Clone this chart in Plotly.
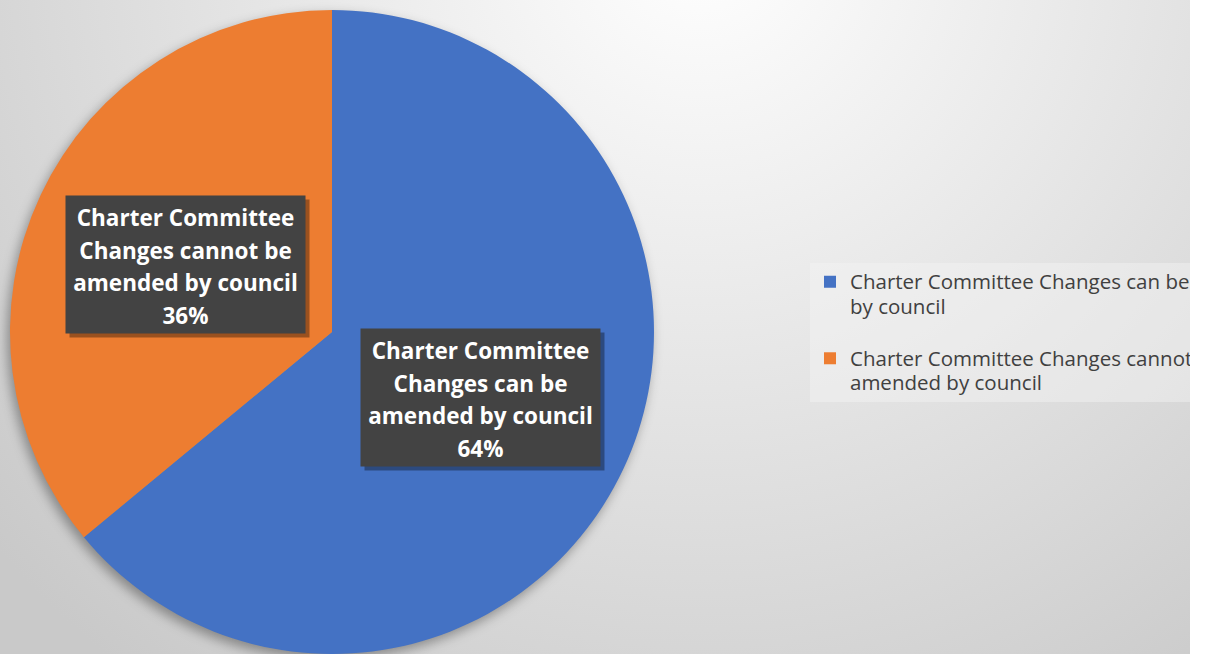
import base64
import plotly.graph_objects as go

W, H = 1190, 654

categories = [
    "Charter Committee Changes can be amended by council",
    "Charter Committee Changes cannot be amended by council",
]
values = [64, 36]
legend_lines = [
    ["Charter Committee Changes can be amended", "by council"],
    ["Charter Committee Changes cannot be", "amended by council"],
]
box_lines = [
    ["Charter Committee", "Changes can be", "amended by council"],
    ["Charter Committee", "Changes cannot be", "amended by council"],
]
colors = ["#4472C4", "#ED7D31"]

# pie geometry (px)
cx, cy, r = 332, 332, 322

bg_svg = f"""<svg xmlns='http://www.w3.org/2000/svg' width='{W}' height='{H}' viewBox='0 0 {W} {H}'>
<defs>
<radialGradient id='g' gradientUnits='userSpaceOnUse' cx='700' cy='-60' r='930'>
<stop offset='0' stop-color='#ffffff'/>
<stop offset='1' stop-color='#c9c9c9'/>
</radialGradient>
<filter id='b' x='-20%' y='-20%' width='140%' height='140%'><feGaussianBlur stdDeviation='6'/></filter>
</defs>
<rect width='{W}' height='{H}' fill='url(#g)'/>
<circle cx='{cx-3}' cy='{cy+5}' r='{r}' fill='rgba(0,0,0,0.35)' filter='url(#b)'/>
</svg>"""
bg_uri = "data:image/svg+xml;base64," + base64.b64encode(bg_svg.encode()).decode()


def legend_label(lines, last):
    s = "<br>".join(f"<span style='font-size:20.5px'>{t}</span>" for t in lines)
    return s if last else s + "<br> "


fig = go.Figure()
fig.add_trace(go.Pie(
    labels=[legend_label(l, i == len(legend_lines) - 1) for i, l in enumerate(legend_lines)],
    values=values,
    sort=False,
    direction="clockwise",
    rotation=0,
    marker=dict(colors=colors, line=dict(width=0)),
    textinfo="none",
    hoverinfo="percent",
    domain=dict(x=[(cx - r) / W, (cx + r) / W], y=[1 - (cy + r) / H, 1 - (cy - r) / H]),
))

total = sum(values)
box_centers = [(480, 397), (185, 264)]
annotations = []
for lines, v, (bx, by) in zip(box_lines, values, box_centers):
    pct = f"{round(100 * v / total)}%"
    txt = "<br>".join(f"<span style='font-size:22.5px'>{t}</span>" for t in lines + [pct])
    common = dict(xref="paper", yref="paper", x=bx / W, y=1 - by / H,
                  xanchor="center", yanchor="middle", showarrow=False,
                  width=239, height=137, borderpad=0)
    annotations.append(dict(text=" ", bgcolor="rgba(0,0,0,0.35)", xshift=4, yshift=-4, **common))
    annotations.append(dict(text=" ", bgcolor="#434343", **common))
    annotations.append(dict(text=f"<b>{txt}</b>",
                            font=dict(family="Open Sans", size=25.1, color="#ffffff"),
                            valign="middle", yshift=-2, **common))

fig.update_layout(
    width=W, height=H,
    margin=dict(l=0, r=0, t=0, b=0, autoexpand=False),
    paper_bgcolor="#ffffff",
    images=[dict(source=bg_uri, xref="paper", yref="paper", x=0, y=1, sizex=1, sizey=1,
                 sizing="stretch", layer="below", xanchor="left", yanchor="top")],
    annotations=annotations,
    showlegend=True,
    legend=dict(x=810 / W, y=1 - 263 / H, xanchor="left", yanchor="top",
                valign="top",
                bgcolor="rgba(245,245,245,0.45)",
                font=dict(family="Open Sans", size=18.85, color="#404040")),
)

fig.write_html("out.html", config={"displayModeBar": False},
               post_script="document.body.style.margin='0';")
